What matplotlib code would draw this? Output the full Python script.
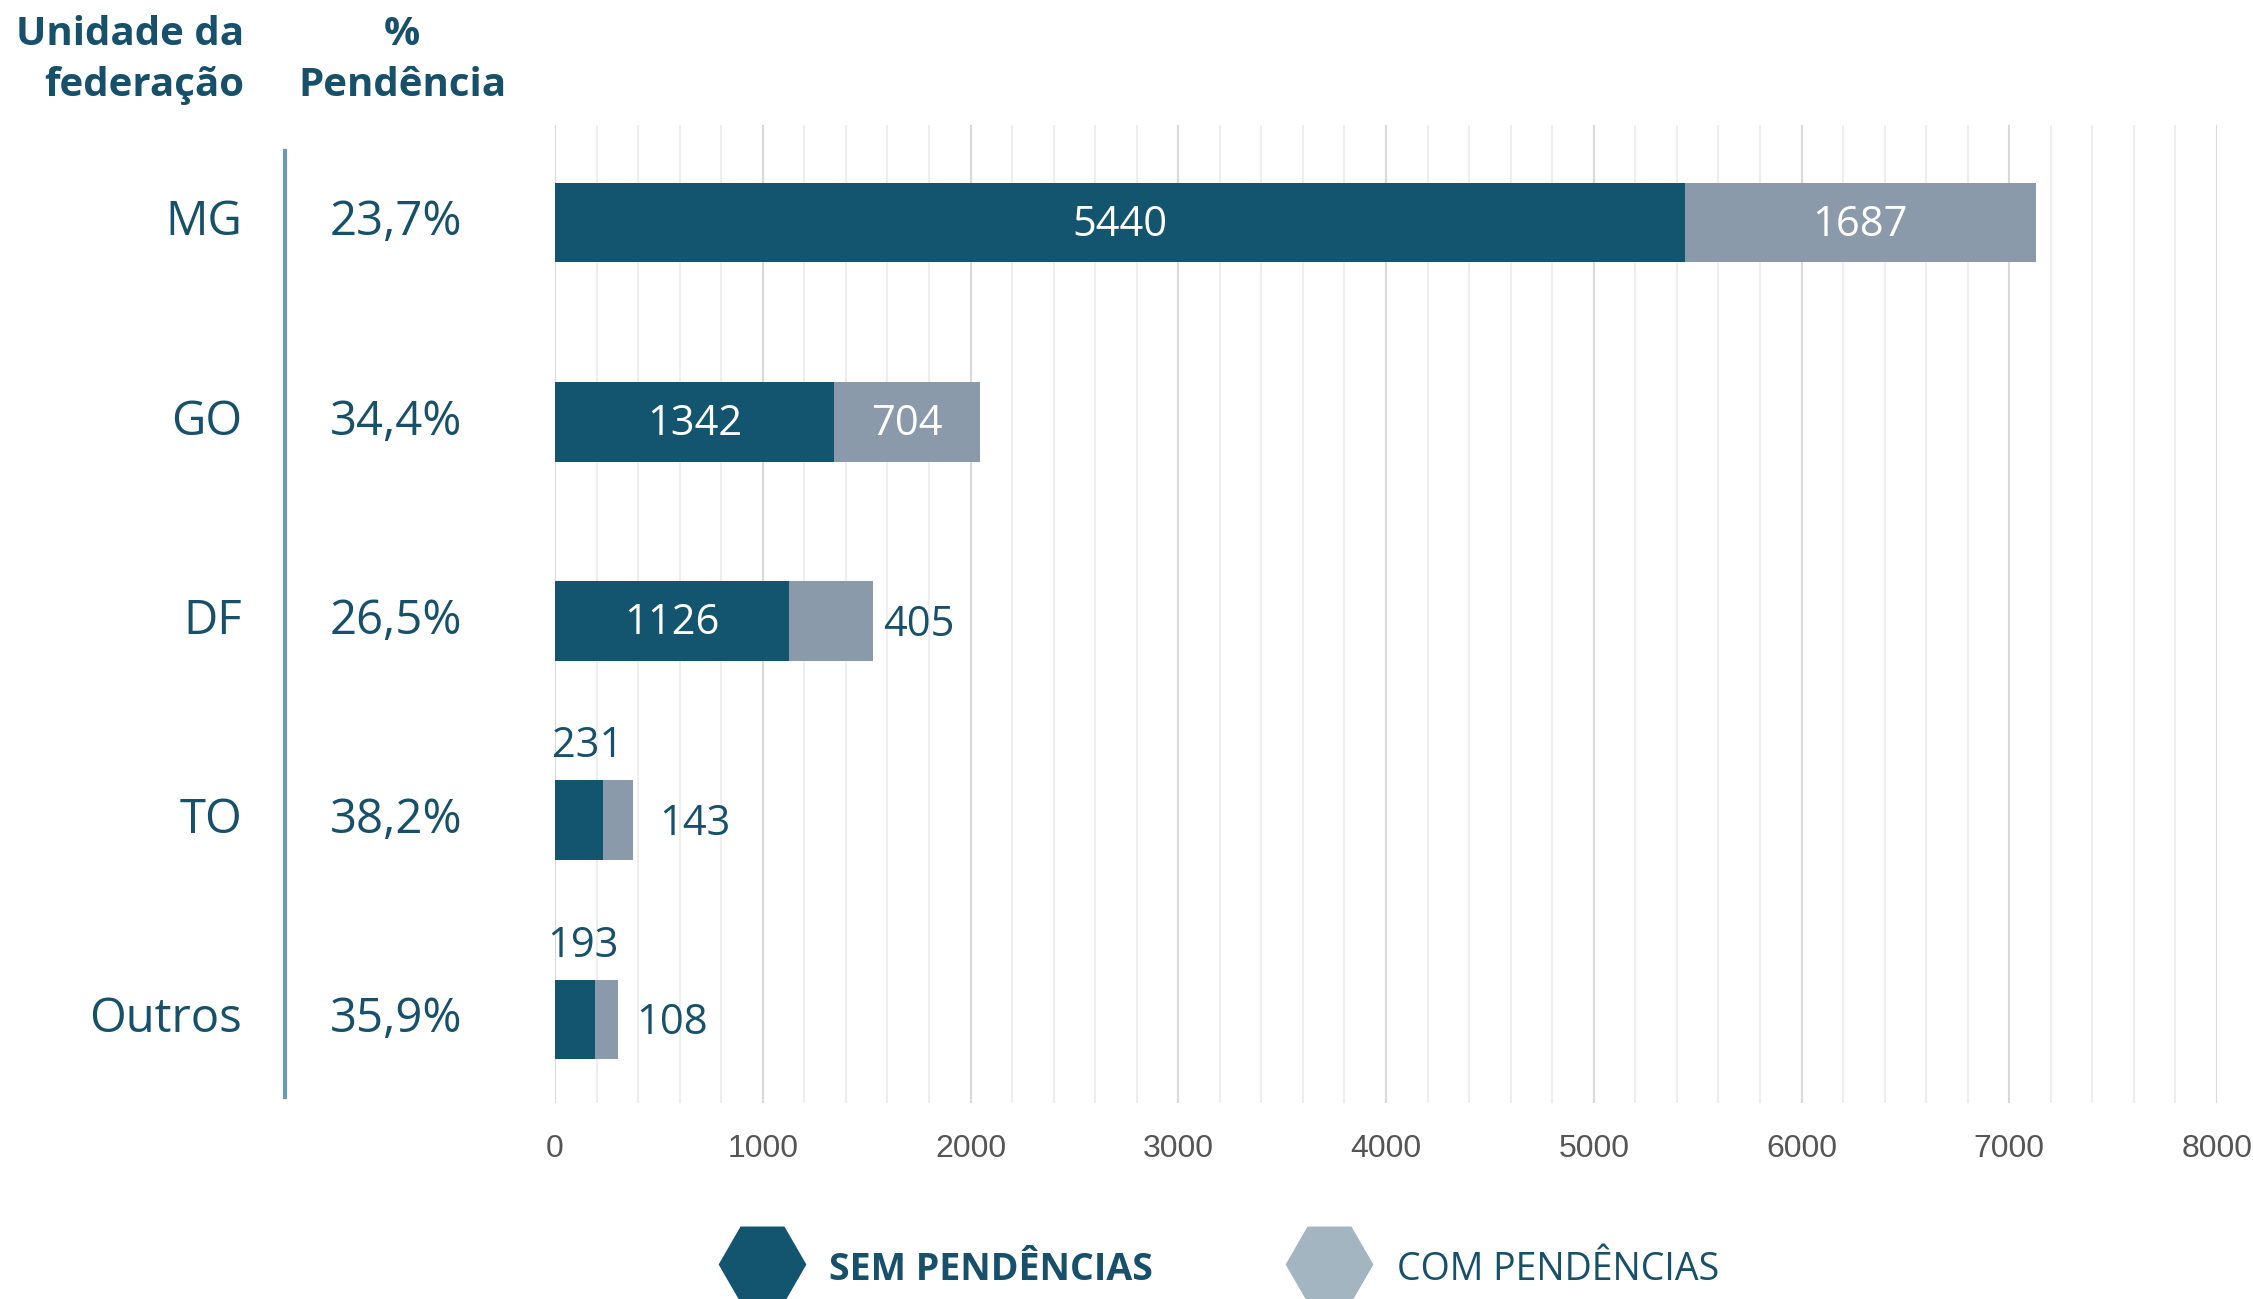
import matplotlib.pyplot as plt
from matplotlib.lines import Line2D
from matplotlib.ticker import MultipleLocator

# data
ufs = ['MG', 'GO', 'DF', 'TO', 'Outros']
pct = ['23,7%', '34,4%', '26,5%', '38,2%', '35,9%']
sem_pend = [5440, 1342, 1126, 231, 193]
com_pend = [1687, 704, 405, 143, 108]

dark = '#13546f'
light = '#8a9aaa'
light_leg = '#a3b5c0'
txt = '#17506a'

plt.rcParams['font.family'] = ['Open Sans', 'DejaVu Sans']

W, H = 2253, 1299
fig = plt.figure(figsize=(W / 100, H / 100), dpi=100)
ax = fig.add_axes([555 / W, 1 - 1103 / H, (2217 - 555) / W, (1103 - 125) / H])

ypos = list(range(len(ufs)))
ax.barh(ypos, sem_pend, height=0.4, color=dark, zorder=3)
ax.barh(ypos, com_pend, left=sem_pend, height=0.4, color=light, zorder=3)

ax.set_xlim(0, 8000)
ax.set_ylim(4.42, -0.49)
ax.xaxis.set_major_locator(MultipleLocator(1000))
ax.xaxis.set_minor_locator(MultipleLocator(200))
ax.grid(axis='x', which='major', color='#d9d9d9', lw=1.5, zorder=0)
ax.grid(axis='x', which='minor', color='#eeeeee', lw=1.5, zorder=0)
ax.set_yticks([])
ax.tick_params(axis='x', which='both', length=0, pad=22, labelsize=23, labelcolor='#555555')
for lab in ax.get_xticklabels():
    lab.set_family('Liberation Sans')
for s in ax.spines.values():
    s.set_visible(False)

# bar labels
for i in range(len(ufs)):
    s, c = sem_pend[i], com_pend[i]
    if i < 3:
        ax.text(s / 2, i + 0.01, str(s), color='white', fontsize=30, ha='center', va='center', zorder=4)
    else:
        ax.text(s / 2 + 40, i - 0.37, str(s), color=txt, fontsize=30, ha='center', va='center', zorder=4)
    if i < 2:
        ax.text(s + c / 2, i + 0.01, str(c), color='white', fontsize=30, ha='center', va='center', zorder=4)
    else:
        off = {2: 50, 3: 130, 4: 90}[i]
        ax.text(s + c + off, i + 0.02, str(c), color=txt, fontsize=30, ha='left', va='center', zorder=4)

# left-side table
for i in range(len(ufs)):
    yf = ax.transData.transform((0, i))[1]
    yfig = yf / H
    fig.text(242 / W, yfig, ufs[i], color=txt, fontsize=34, ha='right', va='center')
    fig.text(396 / W, yfig, pct[i], color=txt, fontsize=34, ha='center', va='center')

fig.add_artist(Line2D([285 / W, 285 / W], [1 - 151 / H, 1 - 1097 / H], color='#6b9ab5', lw=3))

fig.text(244 / W, 1 - 60 / H, 'Unidade da\nfederação', color=txt, fontsize=29,
         fontweight='bold', ha='right', va='center', linespacing=1.4)
fig.text(402 / W, 1 - 60 / H, '%\nPendência', color=txt, fontsize=29,
         fontweight='bold', ha='center', va='center', linespacing=1.4)

# legend
fig.add_artist(Line2D([762 / W], [1 - 1264 / H], marker='H', markersize=62,
                      color=dark, lw=0))
fig.add_artist(Line2D([1329 / W], [1 - 1264 / H], marker='H', markersize=62,
                      color=light_leg, lw=0))
fig.text(829 / W, 1 - 1270 / H, 'SEM PENDÊNCIAS', color=txt, fontsize=27,
         fontweight='bold', ha='left', va='center')
fig.text(1397 / W, 1 - 1270 / H, 'COM PENDÊNCIAS', color=txt, fontsize=27,
         ha='left', va='center')

fig.savefig('out.png', dpi=100)
